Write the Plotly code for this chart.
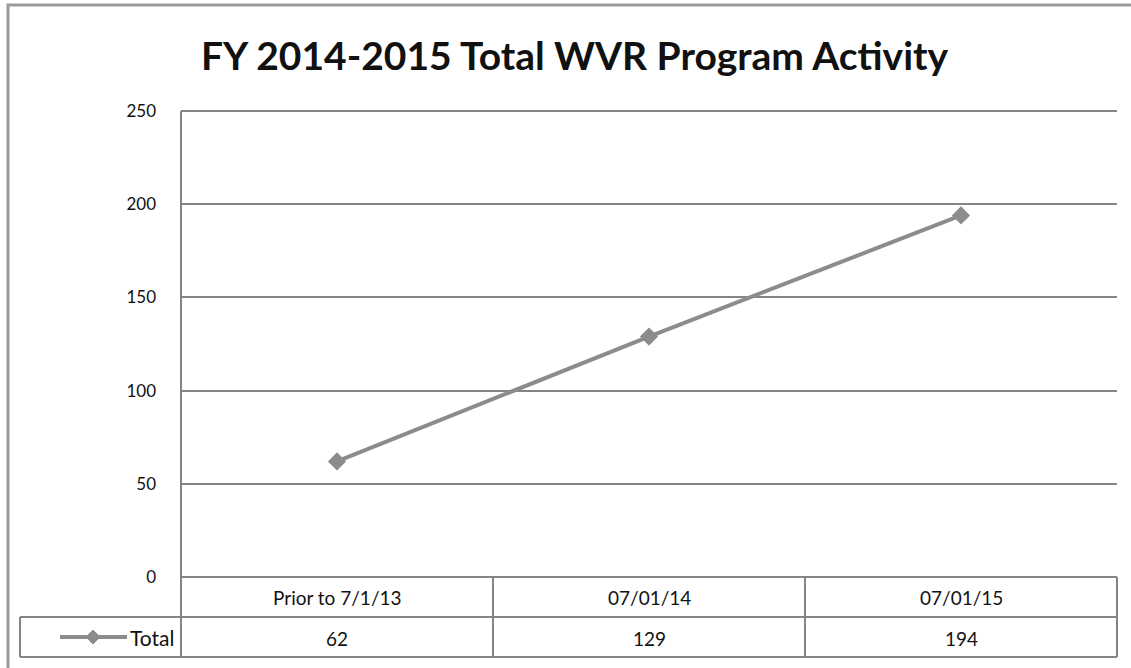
import plotly.graph_objects as go

categories = ["Prior to 7/1/13", "07/01/14", "07/01/15"]
totals = [62, 129, 194]
series_name = "Total"
y_ticks = [0, 50, 100, 150, 200, 250]
title = "FY 2014-2015 Total WVR Program Activity"

W, H = 1131, 668
L, R, T, B = 181, 1117, 111, 577
PW, PH = R - L, B - T
GRID = "#858585"
LINE = "#8c8c8c"
FONT = "Lato"
TXT = "#111111"


def px(x):
    return (x - L) / PW


def py(y):
    return (B - y) / PH


fig = go.Figure()
fig.add_trace(go.Scatter(
    x=categories, y=totals, mode="lines+markers", name=series_name,
    line=dict(color=LINE, width=4),
    marker=dict(symbol="diamond", size=14, color=LINE),
    cliponaxis=False, showlegend=False,
))

shapes = []


def hline(x0, x1, y, w=2):
    shapes.append(dict(type="line", xref="paper", yref="paper",
                       x0=px(x0), x1=px(x1), y0=py(y), y1=py(y),
                       line=dict(color=GRID, width=w)))


def vline(x, y0, y1, w=2):
    shapes.append(dict(type="line", xref="paper", yref="paper",
                       x0=px(x), x1=px(x), y0=py(y0), y1=py(y1),
                       line=dict(color=GRID, width=w)))


# outer frame
shapes.append(dict(type="rect", xref="paper", yref="paper",
                   x0=px(8), x1=px(1140), y0=py(5), y1=py(680),
                   line=dict(color="#9a9a9a", width=3)))

# axis line and top grid line
vline(L, T, B)
hline(L, R, T)
# table
cols = [L, L + PW / 3, L + 2 * PW / 3, R]
row1_top, row2_top, row2_bot = 577, 617, 657
hline(L, R, row1_top)
hline(20, R, row2_top)
hline(20, R, row2_bot)
for c in cols:
    vline(c, row1_top, row2_bot)
vline(20, row2_top, row2_bot)

# legend key in table
shapes.append(dict(type="line", xref="paper", yref="paper",
                   x0=px(60), x1=px(127), y0=py(637), y1=py(637),
                   line=dict(color=LINE, width=4)))
kx, ky, d = 93, 637, 7
path = "M {},{} L {},{} L {},{} L {},{} Z".format(
    px(kx - d), py(ky), px(kx), py(ky - d), px(kx + d), py(ky), px(kx), py(ky + d))
shapes.append(dict(type="path", xref="paper", yref="paper", path=path,
                   fillcolor=LINE, line=dict(color=LINE, width=1)))

annotations = []
for i, (cat, val) in enumerate(zip(categories, totals)):
    cx = (cols[i] + cols[i + 1]) / 2
    annotations.append(dict(x=px(cx), y=py(597), xref="paper", yref="paper",
                            text=cat, showarrow=False,
                            font=dict(family=FONT, size=19, color=TXT),
                            xanchor="center", yanchor="middle"))
    annotations.append(dict(x=px(cx), y=py(638), xref="paper", yref="paper",
                            text=str(val), showarrow=False,
                            font=dict(family=FONT, size=19, color=TXT),
                            xanchor="center", yanchor="middle"))
annotations.append(dict(x=px(176), y=py(637), xref="paper", yref="paper",
                        text=series_name, showarrow=False,
                        font=dict(family=FONT, size=21, color=TXT),
                        xanchor="right", yanchor="middle"))
annotations.append(dict(x=px(575), y=py(55), xref="paper", yref="paper",
                        text="<b>" + title + "</b>", showarrow=False,
                        font=dict(family=FONT, size=39, color=TXT),
                        xanchor="center", yanchor="middle"))

fig.update_layout(
    width=W, height=H,
    margin=dict(l=L, r=W - R, t=T, b=H - B, pad=0),
    paper_bgcolor="white", plot_bgcolor="white",
    shapes=shapes, annotations=annotations,
    xaxis=dict(type="category", range=[-0.5, 2.5], showticklabels=False,
               showgrid=False, zeroline=False, showline=False, ticks=""),
    yaxis=dict(range=[0, 250], tickvals=y_ticks, showgrid=True,
               gridcolor=GRID, gridwidth=2, zeroline=False, showline=False,
               ticks="", ticklabelstandoff=24,
               tickfont=dict(family=FONT, size=17, color=TXT)),
    font=dict(family=FONT),
)

fig.write_html("out.html", config={"displayModeBar": False},
               post_script="document.body.style.margin='0';document.body.style.overflow='hidden';")
